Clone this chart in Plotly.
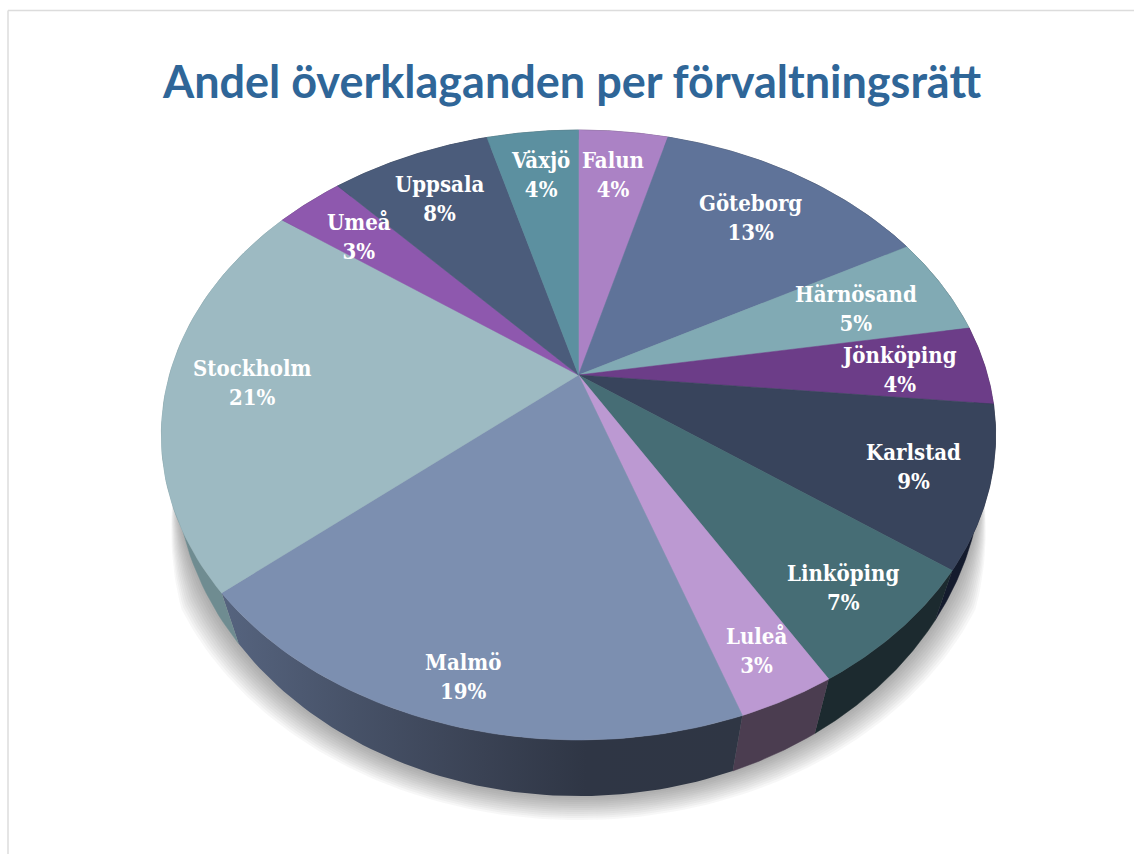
import numpy as np
import plotly.graph_objects as go

TITLE = "Andel överklaganden per förvaltningsrätt"
categories = ["Falun", "Göteborg", "Härnösand", "Jönköping", "Karlstad", "Linköping",
              "Luleå", "Malmö", "Stockholm", "Umeå", "Uppsala", "Växjö"]
shares = [4.2, 12.9, 5.3, 4.2, 8.5, 6.5, 3.2, 19.1, 21.3, 3.2, 7.5, 4.3]
percent_labels = ["4%", "13%", "5%", "4%", "9%", "7%", "3%", "19%", "21%", "3%", "8%", "4%"]

top_colors = ["#ab82c5", "#5f7399", "#81aab4", "#6c3d88", "#38445c", "#466d75",
              "#bc99d2", "#7c8fb0", "#9dbac2", "#8e58ae", "#4b5c7b", "#5c90a0"]
wall_colors = ["#5a4466", "#333c50", "#43595e", "#391f48", "#141b2d", "#1c2a2f",
               "#4b3d50", "#2f3644", "#6f8c91", "#4a2e5a", "#272f40", "#304c54"]
label_centres = [(613, 174), (750, 217), (856, 308), (899, 369), (913, 466), (843, 587),
                 (756, 650), (463, 676), (252, 382), (359, 236), (439, 198), (540, 174)]

# perspective projection of the pie disc onto the page
CX, CY, D, A, C = 578.5, 375.0, 409.0, 293.2, 0.1967
VANISH_Y = 1660.0


def top_rim(theta):
    u, v = np.sin(theta), np.cos(theta)
    w = 1 + C * v
    return CX + D * u / w, CY - A * v / w


def bottom_rim(theta):
    x, y = top_rim(theta)
    s = 0.939 + (740 - y) * 9e-5
    return CX + s * (x - CX), VANISH_Y + s * (y - VANISH_Y)


values = np.array(shares, float)
edges = np.concatenate([[0], np.cumsum(values) / values.sum()]) * 2 * np.pi

fig = go.Figure()

# soft drop shadow, only below the pie: it tapers to nothing towards the sides
tt = np.linspace(0, 2 * np.pi, 361)
bx, by = bottom_rim(tt)
taper = np.clip((by - 475) / 110, 0, 1)
for d in np.arange(24, 0, -2.0):
    fig.add_trace(go.Scatter(x=bx + np.sin(tt) * d * taper, y=by + d * taper,
                             mode="lines", fill="toself", line=dict(width=0),
                             fillcolor="rgba(60,60,60,0.045)", hoverinfo="skip", showlegend=False))

# side walls
for i, name in enumerate(categories):
    th = np.linspace(edges[i], edges[i + 1], 60)
    tx, ty = top_rim(th)
    lx, ly = bottom_rim(th)
    kw = dict(fillcolor=wall_colors[i], line=dict(color=wall_colors[i], width=0.5))
    if name == "Malmö":
        kw = dict(line=dict(width=0),
                  fillgradient=dict(type="horizontal",
                                    colorscale=[[0, "#56647f"], [0.25, "#475268"], [0.5, "#3a4254"],
                                                [0.7, "#2f3645"], [1, "#2f3644"]]))
    fig.add_trace(go.Scatter(x=np.concatenate([tx, lx[::-1]]), y=np.concatenate([ty, ly[::-1]]),
                             mode="lines", fill="toself", hoverinfo="skip", showlegend=False, **kw))

# top faces
for i, name in enumerate(categories):
    th = np.linspace(edges[i], edges[i + 1], 60)
    tx, ty = top_rim(th)
    fig.add_trace(go.Scatter(x=np.concatenate([[CX], tx, [CX]]), y=np.concatenate([[CY], ty, [CY]]),
                             mode="lines", fill="toself", fillcolor=top_colors[i],
                             line=dict(color=top_colors[i], width=0.5),
                             name=name, text=percent_labels[i], hoverinfo="name+text", showlegend=False))

for name, pct, (lx, ly) in zip(categories, percent_labels, label_centres):
    fig.add_annotation(x=lx, y=ly, xref="x", yref="y", text=f"<b>{name}<br>{pct}</b>", showarrow=False,
                       xanchor="center", yanchor="middle", align="center",
                       font=dict(family="DejaVu Serif Condensed, DejaVu Serif", size=22, color="white"))

fig.update_layout(
    width=1134, height=854, margin=dict(l=0, r=0, t=0, b=0),
    paper_bgcolor="white", plot_bgcolor="white", showlegend=False,
    title=dict(text=f"<b>{TITLE}</b>", x=572 / 1134, y=1 - 82 / 854, xanchor="center", yanchor="middle",
               font=dict(family="Lato", size=45, color="#2f6698")),
    xaxis=dict(range=[0, 1134], visible=False, fixedrange=True),
    yaxis=dict(range=[854, 0], visible=False, fixedrange=True),
    shapes=[
        dict(type="line", xref="x", yref="y", x0=8, x1=1134, y0=10.5, y1=10.5, line=dict(color="#dcdcdc", width=1.5)),
        dict(type="line", xref="x", yref="y", x0=8, x1=8, y0=10.5, y1=854, line=dict(color="#dcdcdc", width=1.5)),
    ],
)

fig.write_html("out.html", config={"displayModeBar": False},
               post_script="document.body.style.margin='0';document.body.style.overflow='hidden';")
